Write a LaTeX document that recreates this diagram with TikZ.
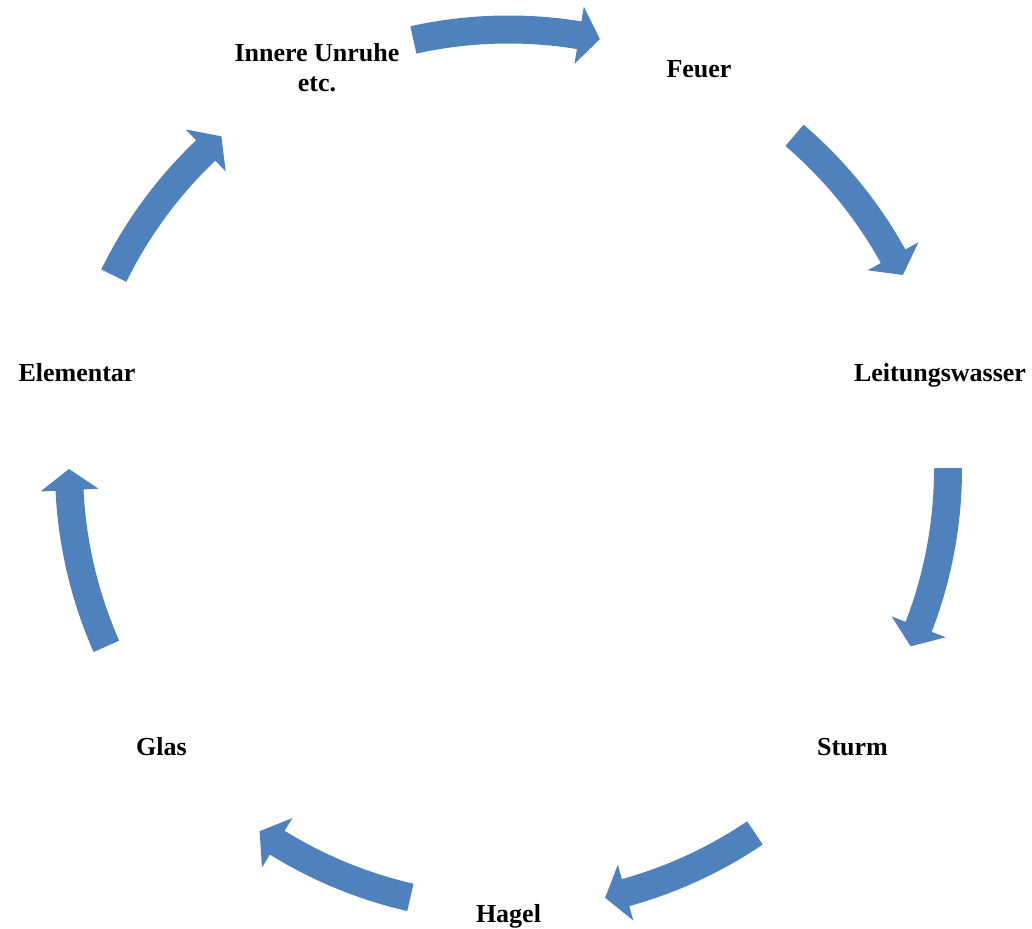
\documentclass[tikz,border=0pt]{standalone}
\usepackage{fontspec}
\setmainfont{Liberation Serif}
\definecolor{cycblue}{HTML}{4F81BD}
\newcommand\cycarrow[2]{%
  \pgfmathsetmacro\hb{#2+2.75}%
  \fill[cycshape] (#1:453.5pt) arc[start angle=#1, end angle=\hb, radius=453.5pt]
    -- (\hb:468.5pt) -- (#2:439.5pt) -- (\hb:410.5pt) -- (\hb:425.5pt)
    arc[start angle=\hb, end angle=#1, radius=425.5pt] -- cycle;}
\begin{document}
\begin{tikzpicture}[x=1pt,y=1pt,
  cycshape/.style={fill=cycblue},
  lbl/.style={font=\fontsize{26}{30}\selectfont\bfseries, inner sep=0pt, anchor=base, align=center}]
\useasboundingbox (0,0) rectangle (1032,928);
\begin{scope}[shift={(508.5,459)}]
  \cycarrow{102.5}{78.0}
  \cycarrow{49.4}{26.2}
  \cycarrow{0.1}{-23.8}
  \cycarrow{-55.9}{-77.3}
  \cycarrow{-102.9}{-124.5}
  \cycarrow{-156.2}{-180}
  \cycarrow{153.9}{130.8}
\end{scope}
\node[lbl] (feuer) at (699,850) {Feuer};
\node[lbl] (leit) at (940,546) {Leitungswasser};
\node[lbl] (sturm) at (852.5,172) {Sturm};
\node[lbl] (hagel) at (508.5,6) {Hagel};
\node[lbl] (glas) at (161.5,172) {Glas};
\node[lbl] (elem) at (77,546) {Elementar};
\node[lbl] (innere) at (317,836) {Innere Unruhe\\etc.};
\end{tikzpicture}
\end{document}
